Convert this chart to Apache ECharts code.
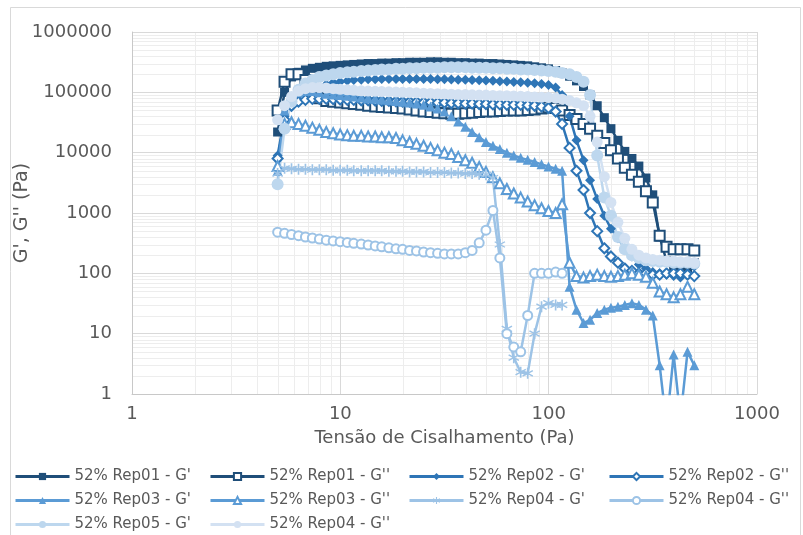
<!DOCTYPE html>
<html>
<head>
<meta charset="utf-8">
<script src="https://cdn.jsdelivr.net/npm/echarts@6/dist/echarts.min.js"></script>
<style>
  html, body { margin: 0; padding: 0; background: #ffffff; }
  #chart { width: 803px; height: 535px; }
</style>
</head>
<body>
<div id="chart"></div>
<script>
// Shear stress steps (Pa), shared by every curve
const STRESS = [5.00,5.40,5.83,6.30,6.80,7.34,7.93,8.56,9.24,9.98,
  10.8,11.6,12.6,13.6,14.7,15.8,17.1,18.5,19.9,21.5,
  23.2,25.1,27.1,29.3,31.6,34.1,36.8,39.8,42.9,46.4,
  50.0,54.0,58.3,63.0,68.0,73.4,79.3,85.6,92.4,99.8,
  108,116,126,136,147,158,171,185,199,215,
  232,251,271,293,316,341,368,398,429,464,
  500];

// Moduli (Pa) at each stress step
const REP01_G1 = [22000,100000,180000,215000,235000,250000,260000,270000,275000,280000,
  285000,290000,295000,300000,300000,305000,305000,310000,310000,315000,
  315000,315000,320000,320000,315000,315000,310000,310000,305000,305000,
  300000,300000,295000,290000,285000,280000,275000,265000,255000,245000,
  230000,210000,185000,155000,125000,90000,60000,38000,25000,16000,
  10500,8000,6000,3800,2000,400,160,120,105,110,
  150];
const REP01_G2 = [50000,150000,200000,200000,160000,110000,80000,72000,70000,68000,
  66000,64000,62000,60000,58000,57000,56000,55000,54000,52000,
  50000,48000,47000,46000,45000,44000,44000,45000,46000,47000,
  48000,48000,49000,50000,50000,50000,51000,52000,54000,56000,
  55000,50000,42000,36000,30000,25000,19000,14500,11000,8000,
  5600,4300,3300,2300,1500,420,275,250,250,250,
  240];
const REP02_G1 = [9000,40000,70000,90000,105000,115000,125000,135000,145000,150000,
  155000,160000,162000,164000,165000,166000,167000,167000,167000,167000,
  167000,166000,166000,165000,164000,163000,162000,161000,160000,158000,
  157000,155000,153000,151000,149000,147000,144000,141000,137000,132000,
  120000,90000,40000,16000,7500,3500,1700,900,550,380,
  260,190,140,120,105,100,95,90,85,100,
  130];
const REP02_G2 = [8000,35000,60000,70000,75000,78000,78000,78000,77000,76000,
  75000,75000,74000,74000,73000,72000,72000,71000,70000,70000,
  69000,68000,68000,67000,67000,66000,66000,65000,65000,64000,
  64000,63000,63000,62000,62000,62000,61000,60000,58000,55000,
  48000,30000,12000,5000,2400,1000,500,260,190,150,
  120,110,100,100,95,95,100,100,100,95,
  90];
const REP03_G1 = [5000,50000,85000,100000,105000,105000,100000,95000,92000,90000,
  88000,85000,82000,80000,78000,76000,74000,72000,70000,68000,
  65000,62000,58000,54000,48000,40000,33000,27000,22000,18000,
  15000,13000,11500,10000,9000,8200,7600,7000,6400,5900,
  5400,5000,60,25,15,17,22,25,27,28,
  30,32,30,25,20,3,0.3,4.5,0.4,5,
  3];
const REP03_G2 = [6000,30000,32000,30000,28000,26000,24000,22000,21000,20000,
  19500,19000,19000,18500,18500,18000,18000,17500,16000,15000,
  14000,13000,12000,11000,10000,9500,8500,7500,6800,5800,
  4800,3900,3100,2500,2100,1800,1550,1350,1200,1080,
  1000,1400,150,90,85,90,95,90,88,90,
  95,100,95,88,70,50,45,40,45,60,
  45];
const REP04_G1 = [4500,5500,5400,5300,5300,5200,5200,5200,5100,5100,
  5100,5000,5000,5000,5000,5000,4900,4900,4900,4800,
  4800,4800,4700,4700,4700,4600,4600,4500,4500,4400,
  4300,3800,300,12,4,2.3,2.2,10,28,32,
  30,30,null,null,null,null,null,null,null,null,
  null,null,null,null,null,null,null,null,null,null,
  null];
const REP04_G2 = [480,460,440,420,400,385,370,355,345,335,
  325,315,305,295,285,275,265,255,250,240,
  235,225,220,215,210,210,210,220,240,320,
  520,1100,180,10,6,5,20,100,100,100,
  105,100,null,null,null,null,null,null,null,null,
  null,null,null,null,null,null,null,null,null,null,
  null];
const REP05_G1 = [3000,25000,70000,110000,140000,160000,180000,190000,200000,210000,
  215000,220000,225000,230000,235000,240000,240000,245000,245000,250000,
  250000,255000,255000,255000,260000,260000,260000,260000,255000,255000,
  255000,250000,250000,245000,245000,240000,240000,235000,230000,225000,
  220000,210000,200000,180000,150000,90000,9000,1800,900,400,
  250,200,180,165,160,155,155,150,150,150,
  145];
const REP04_G2_B = [35000,60000,85000,105000,115000,120000,120000,118000,115000,112000,
  110000,108000,106000,105000,104000,103000,102000,101000,100000,99000,
  98000,97000,96000,95000,94000,93000,92000,92000,91000,90000,
  90000,89000,88000,88000,87000,86000,85000,84000,83000,82000,
  80000,77000,73000,67000,60000,40000,15000,4000,1500,700,
  380,250,200,180,170,165,160,160,155,155,
  150];

const LABELS = ["52% Rep01 - G'", "52% Rep01 - G''", "52% Rep02 - G'", "52% Rep02 - G''",
  "52% Rep03 - G'", "52% Rep03 - G''", "52% Rep04 - G'", "52% Rep04 - G''",
  "52% Rep05 - G'", "52% Rep04 - G''"];
const Y_TICKS = [1, 10, 100, 1000, 10000, 100000, 1000000];
const X_TICKS = [1, 10, 100, 1000];

const FONT = 'DejaVu Sans';
const TEXT = '#595959';

const ASTERISK = 'path://M-0.7,-5L0.7,-5L0.7,5L-0.7,5Z' +
  'M-4.63,-1.98L-4.03,-3.02L4.63,1.98L4.03,3.02Z' +
  'M4.03,-3.02L4.63,-1.98L-4.03,3.02L-4.63,1.98Z';

const STYLES = [
  { values: REP01_G1, color: '#1F4E79', symbol: 'rect', size: 9 },
  { values: REP01_G2, color: '#1F4E79', symbol: 'emptyRect', size: 10 },
  { values: REP02_G1, color: '#2E75B6', symbol: 'diamond', size: 10 },
  { values: REP02_G2, color: '#2E75B6', symbol: 'emptyDiamond', size: 10 },
  { values: REP03_G1, color: '#5B9BD5', symbol: 'triangle', size: 10 },
  { values: REP03_G2, color: '#5B9BD5', symbol: 'emptyTriangle', size: 10 },
  { values: REP04_G1, color: '#9DC3E6', symbol: ASTERISK, size: 11 },
  { values: REP04_G2, color: '#9DC3E6', symbol: 'emptyCircle', size: 9 },
  { values: REP05_G1, color: '#BDD7EE', symbol: 'circle', size: 12 },
  { values: REP04_G2_B, color: '#D3E1F2', symbol: 'circle', size: 11 }
];

// Series keys must be unique; the last curve shares its label with Rep04 G''
const keys = LABELS.map((l, i) => i === 9 ? l + ' ' : l);

const series = STYLES.map((s, i) => ({
  name: keys[i],
  type: 'line',
  data: STRESS.map((x, j) => [x, s.values[j]]),
  symbol: s.symbol,
  symbolSize: s.size,
  showSymbol: true,
  clip: true,
  connectNulls: false,
  lineStyle: { color: s.color, width: 2.5 },
  itemStyle: { color: s.color, borderColor: s.color, borderWidth: s.symbol.startsWith('empty') ? 1.5 : 0 },
  emphasis: { disabled: true },
  animation: false
}));

const colLeft = [14, 209, 408, 608];
const rowTop = [469, 493, 517];
const legends = keys.map((k, i) => ({
  data: [k],
  left: colLeft[i % 4],
  top: rowTop[Math.floor(i / 4)],
  padding: 0,
  itemWidth: 54,
  itemHeight: 9,
  itemGap: 5,
  selectedMode: false,
  formatter: n => n.trim(),
  lineStyle: { width: 3 },
  textStyle: { color: TEXT, fontSize: 15, fontFamily: FONT }
}));

const fmt = v => String(Math.round(v));

const option = {
  backgroundColor: '#ffffff',
  animation: false,
  textStyle: { fontFamily: FONT },
  grid: { left: 132, right: 46, top: 32, bottom: 141, containLabel: false, outerBoundsMode: 'none' },
  legend: legends,
  xAxis: {
    type: 'log', logBase: 10, min: X_TICKS[0], max: X_TICKS[X_TICKS.length - 1],
    name: 'Tensão de Cisalhamento (Pa)', nameLocation: 'middle', nameGap: 35,
    nameMoveOverlap: false,
    nameTextStyle: { color: TEXT, fontSize: 18, fontFamily: FONT },
    axisLine: { show: true, lineStyle: { color: '#C8C8C8', width: 1 } },
    axisTick: { show: false },
    axisLabel: { color: TEXT, fontSize: 18, margin: 11, formatter: fmt, fontFamily: FONT },
    splitLine: { show: true, lineStyle: { color: '#D9D9D9', width: 1 } }
  },
  yAxis: {
    type: 'log', logBase: 10, min: Y_TICKS[0], max: Y_TICKS[Y_TICKS.length - 1],
    name: "G', G'' (Pa)", nameLocation: 'middle', nameGap: 100, nameRotate: 90,
    nameMoveOverlap: false,
    nameTextStyle: { color: TEXT, fontSize: 19, fontFamily: FONT },
    axisLine: { show: true, lineStyle: { color: '#C8C8C8', width: 1 } },
    axisTick: { show: false },
    axisLabel: { color: TEXT, fontSize: 18, margin: 20, formatter: fmt, fontFamily: FONT },
    splitLine: { show: true, lineStyle: { color: '#D9D9D9', width: 1 } }
  },
  series: series
};

const chart = echarts.init(document.getElementById('chart'), null, { renderer: 'canvas' });
chart.setOption(option);

// Minor grid lines at 2..9 within every decade, placed through the axis scales
const minor = [];
const toPx = p => chart.convertToPixel({ gridIndex: 0 }, p);
for (let d = 0; d < 3; d++) {
  for (let k = 2; k <= 9; k++) {
    const v = k * Math.pow(10, d);
    const a = toPx([v, Y_TICKS[0]]), b = toPx([v, Y_TICKS[Y_TICKS.length - 1]]);
    minor.push({ type: 'line', silent: true, z: -1,
      shape: { x1: Math.round(a[0]) + 0.5, y1: a[1], x2: Math.round(b[0]) + 0.5, y2: b[1] },
      style: { stroke: '#EDEDED', lineWidth: 1 } });
  }
}
for (let d = 0; d < 6; d++) {
  for (let k = 2; k <= 9; k++) {
    const v = k * Math.pow(10, d);
    const a = toPx([X_TICKS[0], v]), b = toPx([X_TICKS[X_TICKS.length - 1], v]);
    minor.push({ type: 'line', silent: true, z: -1,
      shape: { x1: a[0], y1: Math.round(a[1]) + 0.5, x2: b[0], y2: Math.round(b[1]) + 0.5 },
      style: { stroke: '#EDEDED', lineWidth: 1 } });
  }
}
// Chart frame
minor.push({ type: 'rect', silent: true, z: -1,
  shape: { x: 10.5, y: 7.5, width: 790, height: 540 },
  style: { fill: null, stroke: '#D9D9D9', lineWidth: 1 } });
chart.setOption({ graphic: { elements: minor } });
</script>
</body>
</html>
